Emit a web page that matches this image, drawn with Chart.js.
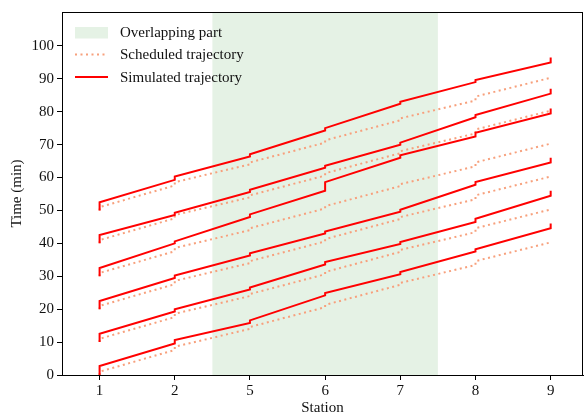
<!DOCTYPE html>
<html><head><meta charset="utf-8">
<script src="https://cdn.jsdelivr.net/npm/chart.js@4/dist/chart.umd.min.js"></script>
<style>html,body{margin:0;padding:0;background:#fff}</style>
</head><body>
<canvas id="c" width="585" height="418"></canvas>
<script>
// ---- data ----
const stations = ['1', '2', '5', '6', '7', '8', '9'];
const overlapRange = [1.5, 4.5];            // station index span of the overlapping part
const yTickMax = 100;

// [arrival, departure] at each station, flattened (minutes)
const sched1 = [0, 1, 7.6, 8.6, 14, 14.6, 20.6, 21.3, 27.4, 28, 33.4, 34.6, 40.3, 40.6];
const sched2 = [10, 11, 17.6, 18.6, 24, 24.6, 30.6, 31.3, 37.4, 38, 43.4, 44.6, 50.3, 50.6];
const sched3 = [20, 21, 27.6, 28.6, 34, 34.6, 40.6, 41.3, 47.4, 48, 53.4, 54.6, 60.3, 60.6];
const sched4 = [30, 31, 37.6, 38.6, 44, 44.6, 50.6, 51.3, 57.4, 58, 63.4, 64.6, 70.3, 70.6];
const sched5 = [40, 41, 47.6, 48.6, 54, 54.6, 60.6, 61.3, 67.4, 68, 73.4, 74.6, 80.3, 80.6];
const sched6 = [50, 51, 57.6, 58.6, 64, 64.6, 70.6, 71.3, 77.4, 78, 83.4, 84.6, 90.3, 90.6];

const sim1 = [0, 2.7, 9.6, 10.6, 15.8, 16.6, 24.2, 24.9, 30.6, 31.3, 37.5, 38.2, 44.6, 46];
const sim2 = [10, 12.5, 19.3, 20, 26, 26.6, 33.6, 34.3, 39.8, 40.4, 46.5, 47.5, 54.5, 56];
const sim3 = [20, 22.5, 29.5, 30.2, 36.3, 37, 43, 43.6, 49.6, 50.2, 57.8, 58.6, 64.6, 66];
const sim4 = [30, 32.5, 40, 40.6, 48, 48.8, 56, 58.6, 66, 66.8, 72.5, 73.6, 79.5, 81];
const sim5 = [40, 42.5, 48.6, 49.3, 55.6, 56.3, 63, 63.6, 70, 70.6, 78.3, 79, 85.5, 87];
const sim6 = [50, 52.5, 59.3, 60.3, 66.4, 67.1, 74.3, 75, 82.4, 83, 89, 89.6, 95, 96.5];

const schedList = [sched1, sched2, sched3, sched4, sched5, sched6];
const simList = [sim1, sim2, sim3, sim4, sim5, sim6];

// ---- build ----
function toPoints(arr) {
  return arr.map((t, k) => ({ x: Math.floor(k / 2), y: t }));
}
const RED = '#ff0000';
const SALMON = '#f7a07c';
const SHADE = 'rgba(0,128,0,0.1)';
const FONT = "'Liberation Serif', 'Times New Roman', serif";

const datasets = [];
simList.forEach((s, i) => datasets.push({
  label: 'Simulated trajectory', data: toPoints(s), borderColor: RED, borderWidth: 2,
  pointRadius: 0, showLine: true, fill: false, tension: 0, order: 1
}));
schedList.forEach((s, i) => datasets.push({
  label: 'Scheduled trajectory', data: toPoints(s), borderColor: SALMON, borderWidth: 2,
  borderDash: [2, 3.5], pointRadius: 0, showLine: true, fill: false, tension: 0, order: 2
}));

const shadePlugin = {
  id: 'shade',
  beforeDatasetsDraw(chart) {
    const { ctx, chartArea, scales } = chart;
    const x0 = scales.x.getPixelForValue(overlapRange[0]);
    const x1 = scales.x.getPixelForValue(overlapRange[1]);
    ctx.save();
    ctx.fillStyle = SHADE;
    ctx.fillRect(x0, chartArea.top, x1 - x0, chartArea.bottom - chartArea.top);
    ctx.restore();
  }
};

const framePlugin = {
  id: 'frame',
  afterDraw(chart) {
    const { ctx, chartArea } = chart;
    ctx.save();
    ctx.strokeStyle = '#000';
    ctx.lineWidth = 1;
    ctx.strokeRect(Math.round(chartArea.left) + 0.5, Math.round(chartArea.top) + 0.5,
      Math.round(chartArea.right - chartArea.left) - 1, Math.round(chartArea.bottom - chartArea.top));
    // legend
    const lx0 = chartArea.left + 13, lx1 = chartArea.left + 46, tx = chartArea.left + 58;
    const rows = [chartArea.top + 21, chartArea.top + 42.5, chartArea.top + 65];
    ctx.fillStyle = SHADE;
    ctx.fillRect(lx0, rows[0] - 6, lx1 - lx0, 11.5);
    ctx.lineWidth = 2;
    ctx.strokeStyle = SALMON;
    ctx.setLineDash([2, 3.5]);
    ctx.beginPath(); ctx.moveTo(lx0, rows[1]); ctx.lineTo(lx1, rows[1]); ctx.stroke();
    ctx.setLineDash([]);
    ctx.strokeStyle = RED;
    ctx.beginPath(); ctx.moveTo(lx0, rows[2]); ctx.lineTo(lx1, rows[2]); ctx.stroke();
    ctx.fillStyle = '#111';
    ctx.font = '15px ' + FONT;
    ctx.textBaseline = 'middle';
    ctx.fillText('Overlapping part', tx, rows[0] + 0.5);
    ctx.fillText('Scheduled trajectory', tx, rows[1] + 1);
    ctx.fillText('Simulated trajectory', tx, rows[2] + 1);
    ctx.restore();
  }
};

new Chart(document.getElementById('c'), {
  type: 'scatter',
  data: { datasets },
  plugins: [shadePlugin, framePlugin],
  options: {
    responsive: false,
    animation: false,
    devicePixelRatio: 1,
    layout: { padding: { top: 12, right: 2, left: 0, bottom: 0 } },
    plugins: { legend: { display: false }, tooltip: { enabled: false } },
    scales: {
      x: {
        type: 'linear', min: -0.5, max: 6.43,
        afterBuildTicks(scale) { scale.ticks = stations.map((s, i) => ({ value: i })); },
        afterFit(scale) { scale.height = 43; },
        ticks: {
          callback: (v) => stations[v] !== undefined ? stations[v] : '',
          color: '#111', font: { family: FONT, size: 15 }, padding: 2, maxRotation: 0, autoSkip: false
        },
        grid: { display: true, drawOnChartArea: false, drawTicks: true, tickLength: 5, color: '#000' },
        border: { display: true, color: '#000', width: 1 },
        title: { display: true, text: 'Station', color: '#111', font: { family: FONT, size: 15 }, padding: { top: 0, bottom: 1 } }
      },
      y: {
        type: 'linear', min: 0, max: 110.3,
        afterBuildTicks(scale) { scale.ticks = scale.ticks.filter(t => t.value <= yTickMax && Math.abs(t.value % 10) < 1e-6); },
        afterFit(scale) { scale.width = 62; },
        ticks: { stepSize: 10, color: '#111', font: { family: FONT, size: 15 }, padding: 3 },
        grid: { display: true, drawOnChartArea: false, drawTicks: true, tickLength: 5, color: '#000' },
        border: { display: true, color: '#000', width: 1 },
        title: { display: true, text: 'Time (min)', color: '#111', font: { family: FONT, size: 15 }, padding: { top: 8, bottom: 0 } }
      }
    }
  }
});
</script>
</body></html>
